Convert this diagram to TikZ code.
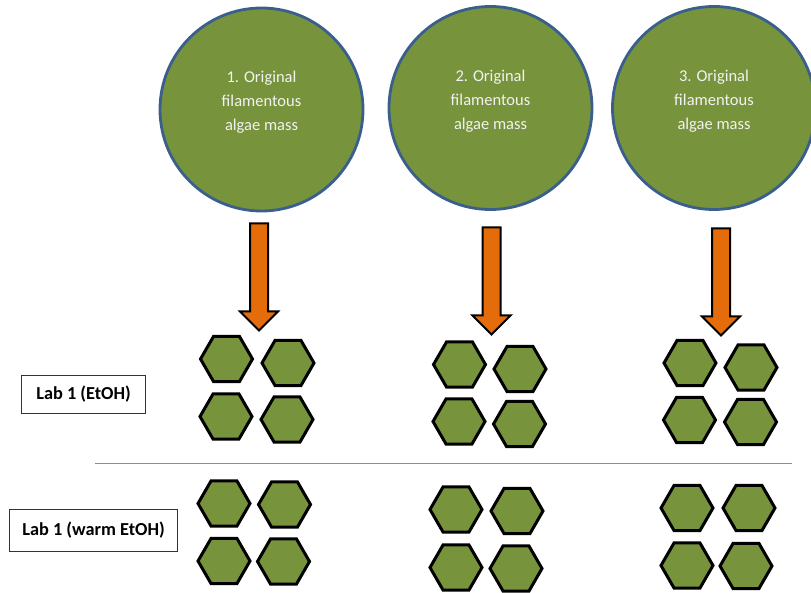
\documentclass[tikz,border=0pt]{standalone}
\usepackage{fontspec}
\setmainfont{Carlito}
\usetikzlibrary{shapes.geometric, shapes.arrows, positioning}
\definecolor{algae}{HTML}{77933C}
\definecolor{massrim}{HTML}{3B5F8C}
\definecolor{masstxt}{HTML}{F2F2F2}
\definecolor{flowor}{HTML}{E46C0A}
\definecolor{sepblue}{HTML}{6F93C8}
\tikzset{
  % massa algale di partenza
  mass/.style={circle, draw=massrim, line width=2.8pt, fill=algae, minimum size=203pt,
    inner sep=0pt},
  masslbl/.style={align=center, text=masstxt, font=\fontsize{16.5}{24}\selectfont},
  % freccia verso i campioni
  downarrow/.style={single arrow, shape border rotate=270, draw=black, line width=2pt,
    fill=flowor, inner sep=8pt, single arrow head extend=10pt, minimum height=107pt},
  % campione (esagono)
  sample/.style={regular polygon, regular polygon sides=6, draw=black, line width=3pt,
    fill=algae, minimum size=52pt, inner sep=0pt},
  % etichetta di riga
  rowlbl/.style={draw=black!80, line width=0.9pt, align=center,
    font=\bfseries\fontsize{18.3}{21}\selectfont},
  % linea di separazione
  sepline/.style={line width=1.2pt, sepblue},
}

\begin{document}
\begin{tikzpicture}[x=1pt, y=-1pt]
  \useasboundingbox (0,0) rectangle (811,593);
  \foreach \i/\x/\y/\ax/\ay in {1/261.5/109.5/259/272.5, 2/490.5/108/491.5/276.5, 3/714/108/721/277.5} {
    \node[mass] (m\i) at (\x,\y) {};
    \node[masslbl] (t\i) at ([yshift=7pt]m\i.center) {\i. Original\\filamentous\\algae mass};
    \node[downarrow] (a\i) at (\ax,\ay) {};
  }
  \foreach \n/\x/\y in {1a/226.5/359, 1b/288/363, 1c/226/416.5, 1d/287/419.5,
      2a/459.5/364.5, 2b/520/369, 2c/459/421.5, 2d/519.5/424,
      3a/690/363, 3b/751/367.5, 3c/689.5/420, 3d/750.5/422,
      4a/224/503.5, 4b/284.5/504.5, 4c/224/561, 4d/283.5/561.5,
      5a/456/509.5, 5b/517/511, 5c/456/567.5, 5d/516/568.5,
      6a/687/508, 6b/749/508, 6c/687/565.5, 6d/746/566}
    \node[sample] (h\n) at (\x,\y) {};
  \coordinate (sepl) at (95,463.5);
  \coordinate (sepr) at (792,463.5);
  \draw[sepline] (sepl) -- (sepr);
  \node[rowlbl, minimum width=124pt, minimum height=38pt] (r1) at (83.5,394.5) {Lab 1 (EtOH)};
  \node[rowlbl, minimum width=168pt, minimum height=42pt] (r2) at (93.5,530.5) {Lab 1 (warm EtOH)};
\end{tikzpicture}
\end{document}
